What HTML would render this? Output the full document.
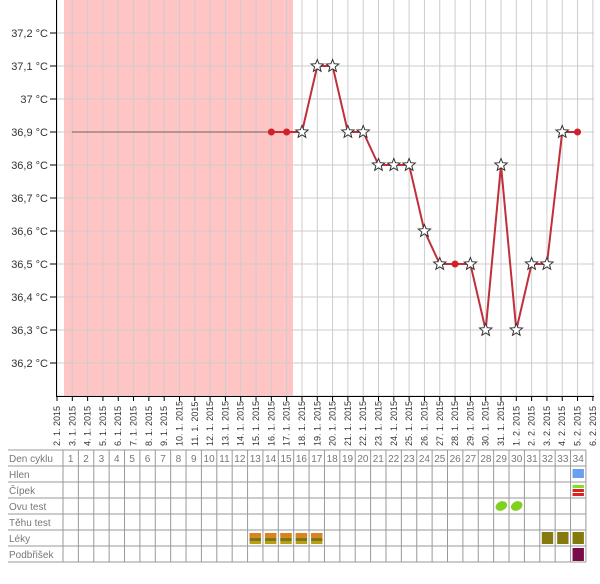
<!DOCTYPE html><html><head><style>body{margin:0;background:#fff}svg{display:block;font-family:"Liberation Sans",sans-serif}</style></head><body>
<svg width="600" height="584" xmlns="http://www.w3.org/2000/svg">
<rect x="64" y="0" width="229" height="396" fill="#ffc4c4"/>
<g id="g" stroke="#ccc" stroke-width="1"></g>
<line x1="56.5" y1="0" x2="56.5" y2="397" stroke="#000"/>
<line x1="56" y1="396.5" x2="594" y2="396.5" stroke="#000"/>
<g id="yl" font-size="11" fill="#333" text-anchor="end"></g>
<g id="xl" font-size="9" fill="#333"></g>
<line x1="72" y1="132" x2="271" y2="132" stroke="#a08080" stroke-width="1.5"/>
<polyline id="pl" fill="none" stroke="#c0303a" stroke-width="2"/>
<g id="pts"></g>
<g id="tb" font-size="10" fill="#777"></g>
</svg>
<script>
const NS="http://www.w3.org/2000/svg";
function el(p,t,a,txt){const e=document.createElementNS(NS,t);for(const k in a)e.setAttribute(k,a[k]);if(txt!=null)e.textContent=txt;document.getElementById(p).appendChild(e);return e;}
const X=i=>57+i*15.31, Y=v=>33+(37.2-v)*330;
for(let i=0;i<=35;i++){el("g","line",{x1:X(i),y1:0,x2:X(i),y2:396});el("g","line",{x1:X(i),y1:396,x2:X(i),y2:401,stroke:"#000"});}
for(let k=0;k<=11;k++){let v=37.2-k*0.1;el("g","line",{x1:56,y1:Y(v),x2:594,y2:Y(v)});}
for(let k=0;k<=10;k++){let v=+(37.2-k*0.1).toFixed(1);let s=(v%1===0?String(v):v.toFixed(1)).replace(".",",");el("yl","text",{x:48,y:Y(v)+4},s+" °C");el("yl","line",{x1:50,y1:Y(v),x2:56,y2:Y(v),stroke:"#000"});}
const dates=[];for(let d=2;d<=31;d++)dates.push(d+". 1. 2015");for(let d=1;d<=6;d++)dates.push(d+". 2. 2015");
dates.forEach((s,i)=>el("xl","text",{transform:`translate(${X(i)+3},446) rotate(-90)`},s));
const data=[[14,36.9,0],[15,36.9,0],[16,36.9,1],[17,37.1,1],[18,37.1,1],[19,36.9,1],[20,36.9,1],[21,36.8,1],[22,36.8,1],[23,36.8,1],[24,36.6,1],[25,36.5,1],[26,36.5,0],[27,36.5,1],[28,36.3,1],[29,36.8,1],[30,36.3,1],[31,36.5,1],[32,36.5,1],[33,36.9,1],[34,36.9,0]];
document.getElementById("pl").setAttribute("points",data.map(d=>X(d[0])+","+Y(d[1])).join(" "));
data.forEach(d=>{const x=X(d[0]),y=Y(d[1]);if(d[2]){let p=[];for(let k=0;k<10;k++){let r=k%2?2.8:6.5,a=-Math.PI/2+k*Math.PI/5;p.push((x+r*Math.cos(a)).toFixed(1)+","+(y+r*Math.sin(a)).toFixed(1));}el("pts","polygon",{points:p.join(" "),fill:"#fff",stroke:"#333","stroke-width":1});}else el("pts","circle",{cx:x,cy:y,r:3.5,fill:"#d0202a"});});
// table
const T=450,R=16,L0=8,C0=63,CW=15.38;
const labels=["Den cyklu","Hlen","Čípek","Ovu test","Těhu test","Léky","Podbřišek"];
for(let r=0;r<=7;r++)el("tb","line",{x1:L0,y1:T+r*R,x2:C0+34*CW,y2:T+r*R,stroke:"#999"});
for(let c=0;c<=34;c++)el("tb","line",{x1:C0+c*CW,y1:T,x2:C0+c*CW,y2:T+7*R,stroke:"#999"});
labels.forEach((s,r)=>el("tb","text",{x:L0+1,y:T+r*R+12},s));
for(let c=0;c<34;c++)el("tb","text",{x:C0+c*CW+CW/2,y:T+12,"text-anchor":"middle"},c+1);
const cx=c=>C0+(c-1)*CW;
[13,14,15,16,17].forEach(c=>{el("tb","rect",{x:cx(c)+2,y:T+5*R+3,width:CW-4,height:11,fill:"#b8a010"});el("tb","rect",{x:cx(c)+2,y:T+5*R+3,width:CW-4,height:4,fill:"#e08020"});el("tb","rect",{x:cx(c)+2,y:T+5*R+8,width:CW-4,height:3,fill:"#807020"});});
[32,33,34].forEach(c=>el("tb","rect",{x:cx(c)+2,y:T+5*R+2,width:CW-4,height:12,fill:"#857a0e"}));
el("tb","rect",{x:cx(34)+2,y:T+6*R+2,width:CW-4,height:13,fill:"#7a0b48"});
el("tb","rect",{x:cx(34)+2,y:T+R+3,width:CW-4,height:9,fill:"#6aa0f0"});
el("tb","rect",{x:cx(34)+2,y:T+2*R+3,width:CW-4,height:3,fill:"#80e020"});
el("tb","rect",{x:cx(34)+2,y:T+2*R+7,width:CW-4,height:3,fill:"#e02020"});
el("tb","rect",{x:cx(34)+2,y:T+2*R+11,width:CW-4,height:3,fill:"#e02020"});
[29,30].forEach(c=>el("tb","ellipse",{cx:cx(c)+CW/2,cy:T+3*R+8,rx:6,ry:4.5,fill:"#80d020",transform:`rotate(-25 ${cx(c)+CW/2} ${T+3*R+8})`}));
</script>
</body></html>
